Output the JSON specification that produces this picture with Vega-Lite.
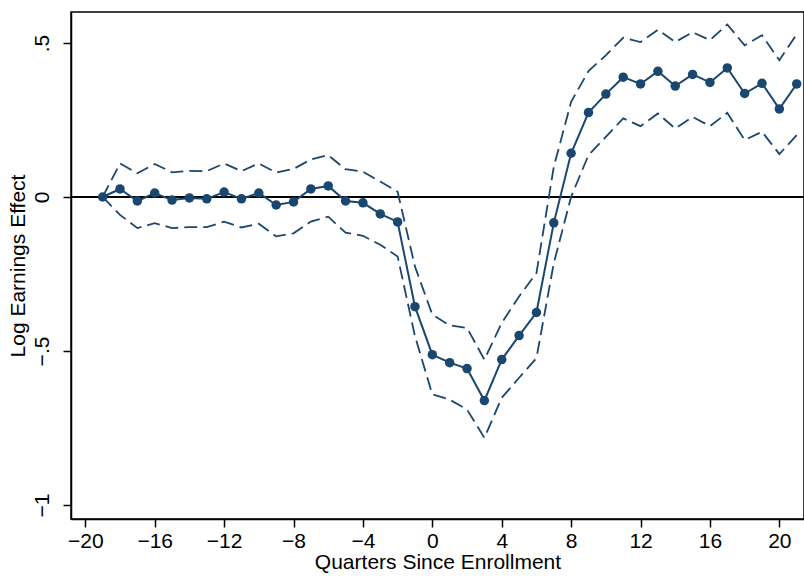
{
  "$schema": "https://vega.github.io/schema/vega-lite/v6.json",
  "width": 733,
  "height": 507,
  "autosize": {"type": "none"},
  "padding": {"left": 71, "top": 12, "right": 0, "bottom": 59},
  "background": "white",
  "config": {
    "view": {"stroke": "black", "strokeWidth": 1.5},
    "font": "Liberation Sans",
    "axis": {
      "grid": false,
      "domainColor": "black",
      "domainWidth": 1.5,
      "tickColor": "black",
      "tickWidth": 1.5,
      "tickSize": 8,
      "labelFontSize": 21,
      "labelColor": "black",
      "labelFont": "Liberation Sans",
      "titleFont": "Liberation Sans",
      "titleFontSize": 21,
      "titleFontWeight": "normal",
      "titleColor": "black",
      "labelFlush": false,
      "labelOverlap": false
    },
    "axisX": {"labelPadding": 3, "titlePadding": 0},
    "axisY": {"labelAngle": -90, "labelAlign": "center", "labelBaseline": "bottom", "labelPadding": 11, "titlePadding": 3}
  },
  "data": {
    "values": [
      {"q": -19, "est": 0, "lo": 0, "hi": 0},
      {"q": -18, "est": 0.026, "lo": -0.058, "hi": 0.109},
      {"q": -17, "est": -0.013, "lo": -0.101, "hi": 0.077},
      {"q": -16, "est": 0.013, "lo": -0.085, "hi": 0.107},
      {"q": -15, "est": -0.01, "lo": -0.101, "hi": 0.08},
      {"q": -14, "est": -0.003, "lo": -0.098, "hi": 0.085},
      {"q": -13, "est": -0.006, "lo": -0.098, "hi": 0.084},
      {"q": -12, "est": 0.016, "lo": -0.08, "hi": 0.109},
      {"q": -11, "est": -0.006, "lo": -0.099, "hi": 0.084},
      {"q": -10, "est": 0.013, "lo": -0.087, "hi": 0.109},
      {"q": -9, "est": -0.026, "lo": -0.128, "hi": 0.079},
      {"q": -8, "est": -0.016, "lo": -0.118, "hi": 0.091},
      {"q": -7, "est": 0.026, "lo": -0.08, "hi": 0.122},
      {"q": -6, "est": 0.036, "lo": -0.064, "hi": 0.136},
      {"q": -5, "est": -0.013, "lo": -0.116, "hi": 0.09},
      {"q": -4, "est": -0.019, "lo": -0.126, "hi": 0.082},
      {"q": -3, "est": -0.055, "lo": -0.155, "hi": 0.05},
      {"q": -2, "est": -0.081, "lo": -0.193, "hi": 0.017},
      {"q": -1, "est": -0.356, "lo": -0.452, "hi": -0.226},
      {"q": 0, "est": -0.512, "lo": -0.641, "hi": -0.382},
      {"q": 1, "est": -0.538, "lo": -0.658, "hi": -0.417},
      {"q": 2, "est": -0.557, "lo": -0.69, "hi": -0.425},
      {"q": 3, "est": -0.661, "lo": -0.782, "hi": -0.528},
      {"q": 4, "est": -0.528, "lo": -0.652, "hi": -0.409},
      {"q": 5, "est": -0.45, "lo": -0.587, "hi": -0.323},
      {"q": 6, "est": -0.375, "lo": -0.523, "hi": -0.247},
      {"q": 7, "est": -0.084, "lo": -0.215, "hi": 0.098},
      {"q": 8, "est": 0.142, "lo": 0.001, "hi": 0.309},
      {"q": 9, "est": 0.274, "lo": 0.136, "hi": 0.409},
      {"q": 10, "est": 0.334, "lo": 0.195, "hi": 0.46},
      {"q": 11, "est": 0.389, "lo": 0.255, "hi": 0.517},
      {"q": 12, "est": 0.367, "lo": 0.23, "hi": 0.503},
      {"q": 13, "est": 0.408, "lo": 0.271, "hi": 0.543},
      {"q": 14, "est": 0.36, "lo": 0.222, "hi": 0.503},
      {"q": 15, "est": 0.398, "lo": 0.26, "hi": 0.535},
      {"q": 16, "est": 0.372, "lo": 0.23, "hi": 0.509},
      {"q": 17, "est": 0.419, "lo": 0.273, "hi": 0.56},
      {"q": 18, "est": 0.336, "lo": 0.185, "hi": 0.492},
      {"q": 19, "est": 0.369, "lo": 0.212, "hi": 0.525},
      {"q": 20, "est": 0.286, "lo": 0.139, "hi": 0.444},
      {"q": 21, "est": 0.367, "lo": 0.201, "hi": 0.528}
    ]
  },
  "layer": [
    {
      "mark": {"type": "rule", "color": "black", "strokeWidth": 1.5},
      "encoding": {
        "y": {"datum": 0, "type": "quantitative", "scale": {"domain": [-1.0455, 0.6006], "nice": false, "zero": false}, "title": "Log Earnings Effect",
          "axis": {"values": [-1, -0.5, 0, 0.5], "labelExpr": "datum.value == 0 ? '0' : datum.value == 0.5 ? '.5' : datum.value == -0.5 ? '−.5' : '−1'"}}
      }
    },
    {
      "mark": {"type": "line", "color": "#1a476f", "strokeWidth": 1.8, "strokeDash": [13, 6]},
      "encoding": {
        "x": {"field": "q", "type": "quantitative", "scale": {"domain": [-20.824, 21.42], "nice": false, "zero": false}, "title": "Quarters Since Enrollment",
          "axis": {"values": [-20, -16, -12, -8, -4, 0, 4, 8, 12, 16, 20], "labelExpr": "replace(format(datum.value, 'd'), '-', '−')"}},
        "y": {"field": "hi", "type": "quantitative", "title": "Log Earnings Effect"}
      }
    },
    {
      "mark": {"type": "line", "color": "#1a476f", "strokeWidth": 1.8, "strokeDash": [13, 6]},
      "encoding": {
        "x": {"field": "q", "type": "quantitative", "title": "Quarters Since Enrollment"},
        "y": {"field": "lo", "type": "quantitative", "title": "Log Earnings Effect"}
      }
    },
    {
      "mark": {"type": "line", "color": "#1a476f", "strokeWidth": 2},
      "encoding": {
        "x": {"field": "q", "type": "quantitative", "title": "Quarters Since Enrollment"},
        "y": {"field": "est", "type": "quantitative", "title": "Log Earnings Effect"}
      }
    },
    {
      "mark": {"type": "point", "filled": true, "color": "#1a476f", "size": 90, "opacity": 1},
      "encoding": {
        "x": {"field": "q", "type": "quantitative", "title": "Quarters Since Enrollment"},
        "y": {"field": "est", "type": "quantitative", "title": "Log Earnings Effect"}
      }
    }
  ]
}
